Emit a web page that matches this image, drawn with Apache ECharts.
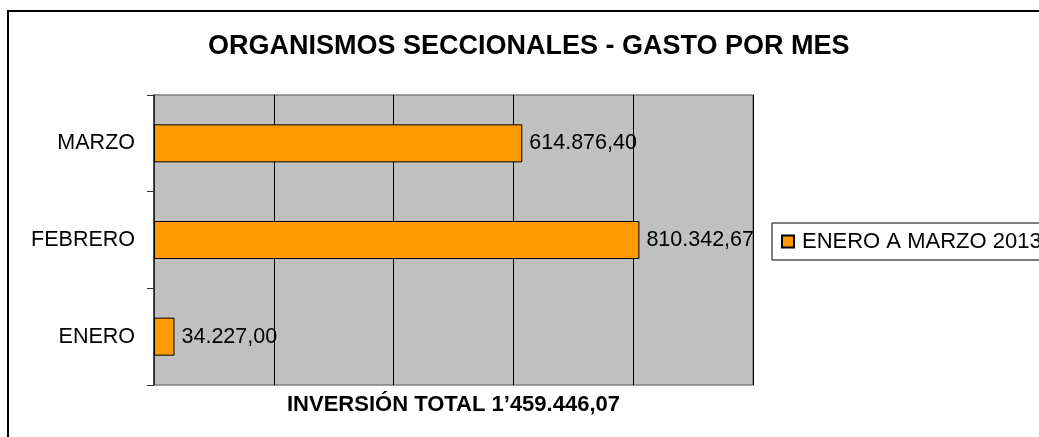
<!DOCTYPE html>
<html>
<head>
<meta charset="utf-8">
<script src="https://cdn.jsdelivr.net/npm/echarts@6/dist/echarts.min.js"></script>
<style>
html,body{margin:0;padding:0;background:#fff;}
#chart{width:1039px;height:437px;}
</style>
</head>
<body>
<div id="chart"></div>
<script>
const categories = ['ENERO', 'FEBRERO', 'MARZO'];
const values = [34227.00, 810342.67, 614876.40];
const seriesName = 'ENERO A MARZO 2013';
const titleText = 'ORGANISMOS SECCIONALES - GASTO POR MES';
const axisTitle = 'INVERSIÓN TOTAL 1’459.446,07';
const xMin = 0, xMax = 1000000, xInterval = 200000;

function fmt(v) {
  const parts = v.toFixed(2).split('.');
  const intPart = parts[0].replace(/\B(?=(\d{3})+(?!\d))/g, '.');
  return intPart + ',' + parts[1];
}

const FONT = 'Liberation Sans, Arial, sans-serif';
const chart = echarts.init(document.getElementById('chart'), null, {renderer: 'canvas'});
chart.setOption({
  backgroundColor: '#ffffff',
  animation: false,
  title: {
    text: titleText,
    left: 208,
    top: 33,
    padding: 0,
    textStyle: {fontFamily: FONT, fontSize: 27, fontWeight: 'bold', color: '#000'}
  },
  graphic: [{
    type: 'rect',
    shape: {x: 8, y: 11, width: 1200, height: 600},
    style: {fill: 'none', stroke: '#000', lineWidth: 2},
    silent: true,
    z: -1
  }],
  legend: {
    left: 772,
    top: 223,
    orient: 'vertical',
    padding: [7, 12, 7, 9],
    borderColor: '#000',
    borderWidth: 1,
    itemWidth: 12,
    itemHeight: 12,
    icon: 'rect',
    textStyle: {fontFamily: FONT, fontSize: 22, color: '#000', lineHeight: 23, padding: [0, 0, 0, 3]},
    data: [seriesName]
  },
  grid: {
    left: 154, right: 286, top: 95, bottom: 52,
    show: true,
    backgroundColor: '#c0c0c0',
    borderColor: '#808080',
    borderWidth: 1.5
  },
  xAxis: {
    type: 'value',
    min: xMin, max: xMax, interval: xInterval,
    axisLabel: {show: false},
    axisTick: {show: false},
    axisLine: {show: false},
    splitLine: {show: true, lineStyle: {color: '#000', width: 1}},
    name: axisTitle,
    nameLocation: 'middle',
    nameGap: 9,
    nameTextStyle: {fontFamily: FONT, fontSize: 22, fontWeight: 'bold', color: '#000', verticalAlign: 'top'}
  },
  yAxis: {
    type: 'category',
    data: categories,
    axisLine: {show: true, lineStyle: {color: '#333', width: 1.5}},
    axisTick: {show: true, length: 7, lineStyle: {color: '#333'}},
    axisLabel: {fontFamily: FONT, fontSize: 21.5, color: '#000', margin: 19},
    splitLine: {show: false}
  },
  series: [{
    name: seriesName,
    type: 'bar',
    data: values,
    barWidth: 38,
    itemStyle: {color: '#ff9900', borderColor: '#000', borderWidth: 1},
    label: {
      show: true,
      position: 'right',
      distance: 7,
      fontFamily: FONT,
      fontSize: 21.5,
      color: '#000',
      formatter: p => fmt(p.value)
    }
  }]
});
</script>
</body>
</html>
